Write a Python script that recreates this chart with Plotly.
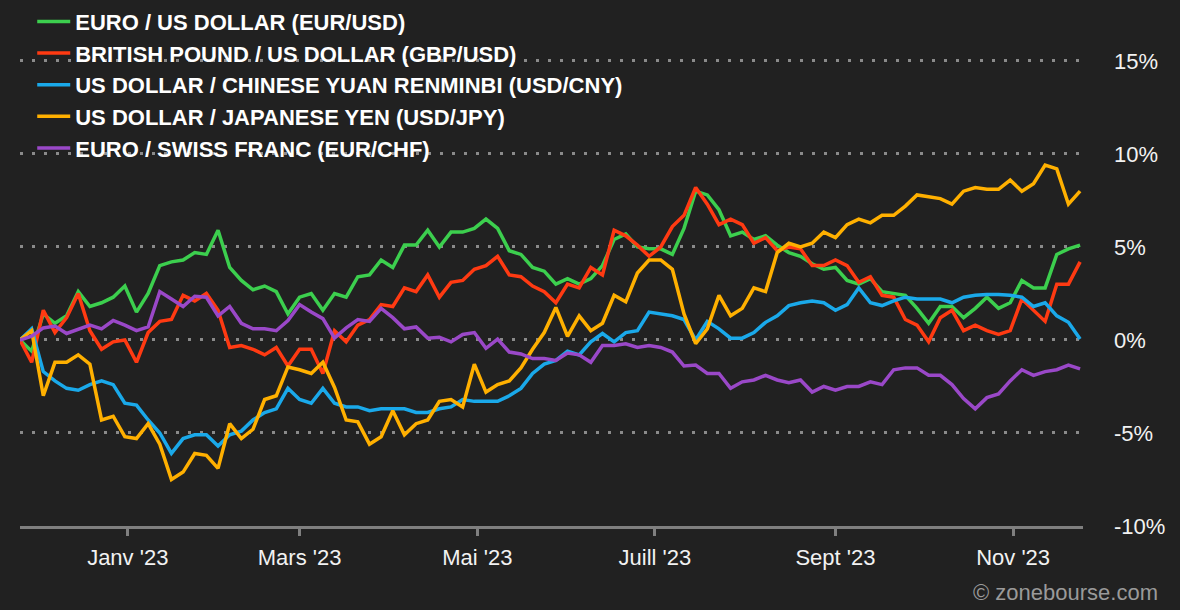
import pandas as pd
import plotly.graph_objects as go

# Dates: one observation every 4 days
dates = pd.date_range("2022-11-25", periods=92, freq="4D")

eur_usd = [0.0, -0.6, 1.4, 0.9, 1.3, 2.6, 1.8, 2.0, 2.3, 2.9, 1.5, 2.5, 4.0, 4.2, 4.3, 4.7,
           4.6, 5.9, 3.9, 3.2, 2.7, 2.9, 2.6, 1.4, 2.3, 2.5, 1.6, 2.5, 2.3, 3.4, 3.5, 4.3,
           3.9, 5.1, 5.1, 5.9, 5.0, 5.8, 5.8, 6.0, 6.5, 6.0, 4.8, 4.6, 3.9, 3.7, 3.0, 3.3,
           3.0, 3.3, 4.0, 5.4, 5.7, 5.0, 4.9, 4.9, 4.6, 6.0, 8.0, 7.8, 7.0, 5.6, 5.8, 5.4,
           5.6, 5.1, 4.7, 4.5, 4.1, 3.8, 3.9, 3.2, 3.0, 3.3, 2.6, 2.5, 2.4, 1.7, 0.9, 1.8,
           1.8, 1.2, 1.7, 2.3, 1.7, 2.0, 3.2, 2.8, 2.8, 4.6, 4.9, 5.1]

gbp_usd = [0.0, -1.2, 1.6, 0.4, 1.2, 2.5, 0.5, -0.5, -0.1, 0.0, -1.2, 0.4, 1.0, 1.1, 2.4, 2.1,
           2.5, 1.6, -0.4, -0.3, -0.5, -0.8, -0.4, -1.4, -0.5, -0.5, -1.8, 0.5, -0.1, 0.8, 1.1, 1.9,
           1.8, 2.8, 2.6, 3.5, 2.3, 3.1, 3.2, 3.8, 4.0, 4.5, 3.5, 3.4, 2.9, 2.6, 2.0, 3.0,
           2.8, 3.9, 3.5, 5.9, 5.6, 5.1, 4.5, 5.0, 6.1, 6.7, 8.2, 7.3, 6.2, 6.5, 6.2, 5.2,
           5.5, 4.8, 5.0, 4.9, 4.0, 4.0, 4.3, 4.0, 3.1, 3.4, 2.4, 2.3, 1.1, 0.8, -0.1, 1.2,
           1.6, 0.5, 0.8, 0.5, 0.3, 0.5, 2.2, 1.6, 1.0, 3.0, 3.0, 4.2]

usd_cny = [0.0, 0.6, -1.7, -2.2, -2.6, -2.7, -2.4, -2.2, -2.4, -3.4, -3.5, -4.3, -5.0, -6.1, -5.3, -5.1,
           -5.1, -5.7, -5.1, -4.9, -4.3, -3.9, -3.7, -2.6, -3.2, -3.4, -2.6, -3.4, -3.6, -3.6, -3.8, -3.7,
           -3.7, -3.7, -3.9, -3.9, -3.7, -3.6, -3.2, -3.3, -3.3, -3.3, -3.0, -2.6, -1.8, -1.3, -1.1, -0.6,
           -0.8, -0.1, 0.35, -0.1, 0.4, 0.5, 1.5, 1.4, 1.3, 1.1, 0.0, 1.0, 0.6, 0.1, 0.1, 0.4,
           0.95, 1.3, 1.85, 2.0, 2.1, 2.0, 1.6, 1.9, 2.8, 2.0, 1.85, 2.1, 2.3, 2.2, 2.2, 2.2,
           2.0, 2.3, 2.4, 2.45, 2.45, 2.4, 2.3, 1.8, 2.0, 1.3, 0.95, 0.05]

usd_jpy = [0.0, 0.5, -3.0, -1.2, -1.2, -0.8, -1.3, -4.3, -4.1, -5.2, -5.3, -4.5, -5.6, -7.5, -7.1, -6.1,
           -6.2, -6.9, -4.5, -5.3, -4.8, -3.2, -3.0, -1.45, -1.6, -1.8, -1.2, -2.55, -4.3, -4.4, -5.6, -5.2,
           -3.8, -5.1, -4.5, -4.3, -3.3, -3.2, -3.6, -1.3, -2.8, -2.4, -2.2, -1.5, -0.5, 0.4, 1.75, 0.2,
           1.3, 0.5, 0.9, 2.4, 2.05, 3.6, 4.3, 4.3, 3.8, 1.4, -0.2, 0.6, 2.4, 1.3, 1.7, 2.8,
           2.6, 4.7, 5.2, 5.0, 5.2, 5.8, 5.5, 6.2, 6.5, 6.3, 6.7, 6.7, 7.2, 7.8, 7.7, 7.6,
           7.3, 8.0, 8.2, 8.1, 8.1, 8.6, 8.0, 8.4, 9.4, 9.2, 7.3, 8.0]

eur_chf = [0.0, 0.2, 0.65, 0.75, 0.35, 0.6, 0.8, 0.6, 1.05, 0.8, 0.5, 0.7, 2.6, 2.2, 1.8, 2.35,
           2.3, 1.3, 1.8, 0.9, 0.6, 0.6, 0.5, 1.05, 1.9, 1.5, 1.15, 0.1, 0.65, 1.1, 1.0, 1.7,
           1.2, 0.6, 0.7, 0.1, 0.15, -0.1, 0.3, 0.4, -0.45, 0.05, -0.65, -0.75, -1.0, -1.0, -1.1, -0.7,
           -0.8, -1.2, -0.3, -0.3, -0.2, -0.4, -0.3, -0.4, -0.65, -1.4, -1.35, -1.8, -1.8, -2.6, -2.25, -2.15,
           -1.9, -2.15, -2.3, -2.15, -2.8, -2.5, -2.7, -2.5, -2.5, -2.25, -2.4, -1.6, -1.5, -1.5, -1.9, -1.9,
           -2.4, -3.15, -3.7, -3.1, -2.9, -2.2, -1.6, -1.9, -1.7, -1.6, -1.35, -1.55]

series_names = ["EURO / US DOLLAR (EUR/USD)",
                "BRITISH POUND / US DOLLAR (GBP/USD)",
                "US DOLLAR / CHINESE YUAN RENMINBI (USD/CNY)",
                "US DOLLAR / JAPANESE YEN (USD/JPY)",
                "EURO / SWISS FRANC (EUR/CHF)"]
series_values = [eur_usd, gbp_usd, usd_cny, usd_jpy, eur_chf]
series_colors = ["#3ccf4e", "#ff3a12", "#1aa9ea", "#ffb000", "#9a48c8"]

x_tickvals = ["2023-01-01", "2023-03-01", "2023-05-01", "2023-07-01", "2023-09-01", "2023-11-01"]
x_ticktext = ["Janv '23", "Mars '23", "Mai '23", "Juill '23", "Sept '23", "Nov '23"]
y_tickvals = [-10, -5, 0, 5, 10, 15]
y_ticktext = ["-10%", "-5%", "0%", "5%", "10%", "15%"]

BG = "#212121"
FONT = "Liberation Sans, Arial, sans-serif"

fig = go.Figure()
for name, vals, col in zip(series_names, series_values, series_colors):
    fig.add_trace(go.Scatter(x=dates, y=vals, mode="lines", name=name,
                             line=dict(color=col, width=3.5)))

fig.update_layout(
    width=1180, height=610,
    paper_bgcolor=BG, plot_bgcolor=BG,
    margin=dict(l=20, r=97, t=10, b=84, autoexpand=False),
    font=dict(family=FONT, color="#f2f2f2", size=22),
    showlegend=True,
    legend=dict(x=0.0115, y=1.018, xanchor="left", yanchor="top",
                bgcolor="rgba(0,0,0,0)", borderwidth=0, itemwidth=33,
                font=dict(family=FONT, size=22, color="#ffffff", weight="bold"),
                tracegroupgap=0),
    xaxis=dict(range=["2022-11-25", "2023-11-25"], tickvals=x_tickvals, ticktext=x_ticktext,
               showgrid=False, zeroline=False, showline=True, linecolor="#7f7f7f", linewidth=3,
               ticks="outside", ticklen=7, tickwidth=3, tickcolor="#7f7f7f",
               tickfont=dict(size=22, color="#f2f2f2"), ticklabelstandoff=3),
    yaxis=dict(range=[-10, 17.74], side="right", tickvals=y_tickvals, ticktext=y_ticktext,
               showgrid=True, gridcolor="#8a8a8a", gridwidth=3, griddash="3px,9px",
               zeroline=False, showline=False, ticks="",
               tickfont=dict(size=22, color="#f2f2f2"), ticklabelstandoff=30),
    annotations=[dict(text="© zonebourse.com", xref="paper", yref="paper",
                      x=(1160 - 20) / 1063, y=(526 - 592) / 516,
                      xanchor="right", yanchor="middle", showarrow=False,
                      font=dict(family=FONT, size=22, color="#9a9a9a"))],
)

fig.write_html("out.html", config={"displayModeBar": False},
               post_script="document.body.style.margin='0';document.body.style.background='#212121';")
